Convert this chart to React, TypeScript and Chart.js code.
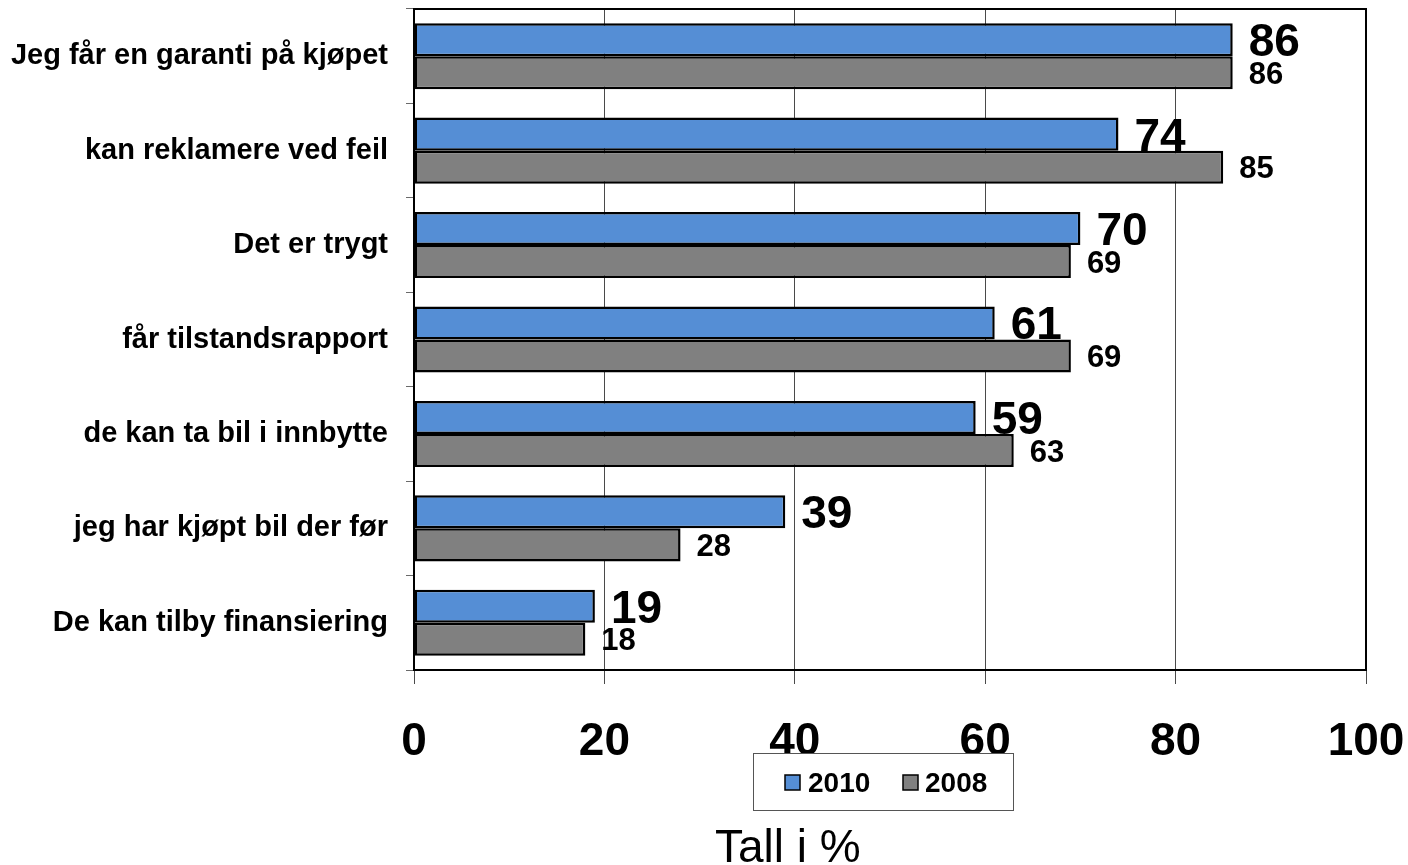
import React, { useEffect, useRef } from 'react';
import { Chart, registerables } from 'chart.js';

Chart.register(...registerables);

const categories = [
  'Jeg får en garanti på kjøpet',
  'kan reklamere ved feil',
  'Det er trygt',
  'får tilstandsrapport',
  'de kan ta bil i innbytte',
  'jeg har kjøpt bil der før',
  'De kan tilby finansiering',
];
const values2010 = [86, 74, 70, 61, 59, 39, 19];
const values2008 = [86, 85, 69, 69, 63, 28, 18];
const seriesLabels = ['2010', '2008'];
const seriesColors = ['#558ED5', '#808080'];
const axisTitle = 'Tall i %';

const FONT = '"Liberation Sans", Arial, Helvetica, sans-serif';

const decorPlugin = {
  id: 'decor',
  afterDatasetsDraw(chart: any) {
    const ctx = chart.ctx;
    ctx.save();
    chart.data.datasets.forEach((ds: any, i: number) => {
      const meta = chart.getDatasetMeta(i);
      const size = i === 0 ? 46 : 31;
      ctx.font = `bold ${size}px ${FONT}`;
      ctx.fillStyle = '#000';
      ctx.textAlign = 'left';
      ctx.textBaseline = 'alphabetic';
      meta.data.forEach((el: any, j: number) => {
        const { x, y } = el.getProps(['x', 'y'], true);
        ctx.fillText(String(ds.data[j]), x + 16, y + size * 0.358);
      });
    });
    ctx.restore();
  },
  afterDraw(chart: any) {
    const ctx = chart.ctx;
    const a = chart.chartArea;
    ctx.save();
    // plot border
    ctx.strokeStyle = '#000';
    ctx.lineWidth = 2;
    ctx.strokeRect(a.left, a.top, a.right - a.left, a.bottom - a.top);

    // legend
    const bx = 753.5, by = 753.5, bw = 260, bh = 57;
    ctx.fillStyle = '#fff';
    ctx.fillRect(bx, by, bw, bh);
    ctx.strokeStyle = '#555';
    ctx.lineWidth = 1;
    ctx.strokeRect(bx, by, bw, bh);
    const items = [
      { mx: 785, tx: 808 },
      { mx: 903, tx: 925 },
    ];
    chart.data.datasets.forEach((ds: any, i: number) => {
      const it = items[i];
      ctx.fillStyle = ds.backgroundColor;
      ctx.fillRect(it.mx, 775, 15, 15);
      ctx.strokeStyle = '#000';
      ctx.lineWidth = 1.5;
      ctx.strokeRect(it.mx, 775, 15, 15);
      ctx.fillStyle = '#000';
      ctx.font = `bold 28px ${FONT}`;
      ctx.textAlign = 'left';
      ctx.textBaseline = 'alphabetic';
      ctx.fillText(ds.label, it.tx, 792);
    });

    // axis title
    ctx.fillStyle = '#000';
    ctx.font = `46px ${FONT}`;
    ctx.textAlign = 'left';
    ctx.textBaseline = 'alphabetic';
    ctx.fillText(axisTitle, 715, 862);
    ctx.restore();
  },
};

const noPad = (s: any) => {
  s.paddingTop = 0;
  s.paddingBottom = 0;
  s.paddingLeft = 0;
  s.paddingRight = 0;
};

export default function App() {
  const ref = useRef<HTMLCanvasElement | null>(null);

  useEffect(() => {
    if (!ref.current) return;
    const chart = new Chart(ref.current, {
      type: 'bar',
      data: {
        labels: categories,
        datasets: [
          {
            label: seriesLabels[0],
            data: values2010,
            backgroundColor: seriesColors[0],
            borderColor: '#000',
            borderWidth: 2.5,
            borderSkipped: false,
            categoryPercentage: 0.7,
            barPercentage: 1.0,
          },
          {
            label: seriesLabels[1],
            data: values2008,
            backgroundColor: seriesColors[1],
            borderColor: '#000',
            borderWidth: 2.5,
            borderSkipped: false,
            categoryPercentage: 0.7,
            barPercentage: 1.0,
          },
        ],
      },
      options: {
        indexAxis: 'y',
        animation: false,
        responsive: true,
        maintainAspectRatio: false,
        layout: { padding: { top: 9, right: 42, left: 0, bottom: 0 } },
        plugins: {
          legend: { display: false },
          tooltip: { enabled: false },
        },
        scales: {
          x: {
            min: 0,
            max: 100,
            ticks: {
              stepSize: 20,
              color: '#000',
              font: { family: FONT, size: 46, weight: 'bold' },
              padding: 31,
              maxRotation: 0,
            },
            grid: {
              color: '#4a4a4a',
              lineWidth: 1,
              drawTicks: true,
              tickLength: 14,
            },
            border: { display: true, color: '#000', width: 2 },
            afterFit: (s: any) => {
              s.height = 195;
              noPad(s);
            },
          },
          y: {
            offset: true,
            ticks: {
              color: '#000',
              font: { family: FONT, size: 29, weight: 'bold' },
              padding: 18,
            },
            grid: {
              offset: true,
              drawOnChartArea: false,
              drawTicks: true,
              tickLength: 8,
              color: '#6a6a6a',
            },
            border: { display: true, color: '#000', width: 2 },
            afterFit: (s: any) => {
              s.width = 414;
              noPad(s);
            },
          },
        },
      },
      plugins: [decorPlugin],
    });
    return () => chart.destroy();
  }, []);

  return (
    <div style={{ position: 'fixed', left: 0, top: 0, width: 1408, height: 865, background: '#fff' }}>
      <canvas ref={ref} />
    </div>
  );
}
